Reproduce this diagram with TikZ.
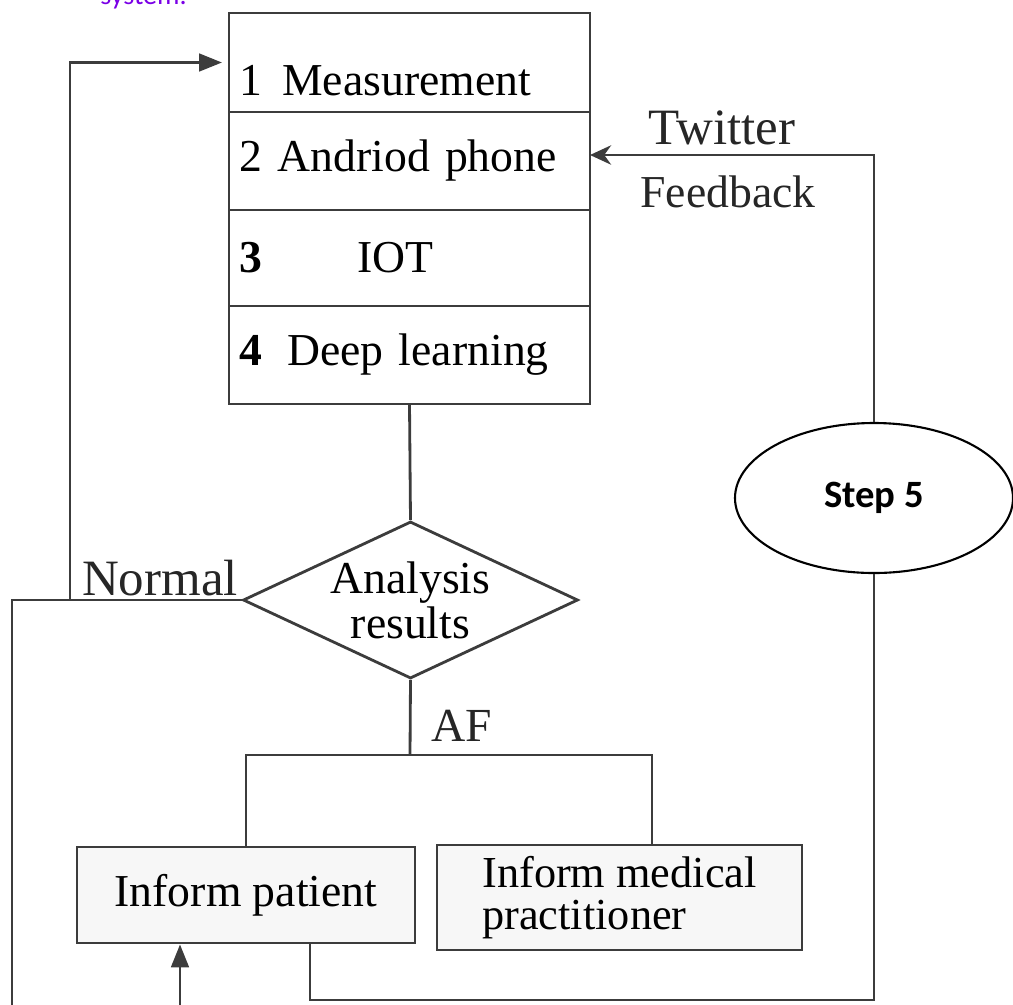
\documentclass[tikz,border=0pt]{standalone}
\usepackage{fontspec}
\setmainfont{Liberation Serif}
\newfontfamily\calibri{Carlito}
\usetikzlibrary{positioning,shapes.geometric,arrows.meta}
\definecolor{linegray}{HTML}{3C3C3C}
\definecolor{capviolet}{HTML}{7A00E6}

\begin{document}
\begin{tikzpicture}[
        line/.style={draw=linegray, line width=0.8pt},
        row/.style={line, rectangle, minimum width=3.61cm, text width=3.4cm, align=left,
            inner sep=0pt, outer sep=0pt, font=\fontsize{13}{15}\selectfont},
        infobox/.style={line, rectangle, fill=gray!6, inner sep=0pt, align=left,
            font=\fontsize{12.6}{11.8}\selectfont},
        tag/.style={inner sep=0pt, text=black!85}
    ]
    \useasboundingbox (0,0) rectangle (10.13,-10.04);
    \clip (0,0) rectangle (10.13,-10.04);

    % caption remnant
    \node[anchor=base west, text=capviolet, font=\calibri\fontsize{8}{9}\selectfont] (cap) at (0.88,-0.04) {system.};

    % stacked steps 1--4
    \node[row, minimum height=0.99cm, text height=0.65cm, text depth=0cm] (m1) at (4.095,-0.625) {1\hspace{0.2cm}Measurement};
    \node[row, minimum height=0.98cm] (m2) [below=0pt of m1] {2 Andriod phone};
    \node[row, minimum height=0.96cm] (m3) [below=0pt of m2] {\textbf{3}\hspace{0.95cm}IOT};
    \node[row, minimum height=0.98cm] (m4) [below=0pt of m3] {\textbf{4}\hspace{0.25cm}Deep learning};

    \node[line, diamond, aspect=2.13, inner sep=0pt, minimum width=3.35cm, minimum height=1.57cm,
        align=center, font=\fontsize{13}{11.5}\selectfont] (res) at (4.105,-6.00) {Analysis\\results};

    \node[infobox, minimum width=3.38cm, minimum height=0.96cm, font=\fontsize{13}{15}\selectfont] (pat) at (2.46,-8.95) {Inform patient};
    \node[infobox, minimum width=3.65cm, minimum height=1.05cm] (med) at (6.195,-8.975) {Inform medical\\practitioner};

    \node[draw=black, line width=0.6pt, ellipse, minimum width=2.78cm, minimum height=1.50cm,
        font=\calibri\bfseries\fontsize{11}{13}\selectfont] (step) at (8.74,-4.98) {Step 5};

    % labels
    \node[tag, font=\fontsize{14.5}{16}\selectfont] (tw) at (7.22,-1.28) {Twitter};
    \node[tag, font=\fontsize{13}{15}\selectfont] (fbk) at (7.28,-1.92) {Feedback};
    \node[tag, font=\fontsize{14.5}{16}\selectfont] (nrm) at (1.60,-5.78) {Normal};
    \node[tag, font=\fontsize{13.5}{15}\selectfont] (af) at (4.62,-7.26) {AF};

    \coordinate (split) at (4.10,-7.55);
    \coordinate (nl) at (0.12,-6.00);
    \coordinate (nu) at (0.70,-6.00);
    \coordinate (nlend) at (0.12,-10.30);
    \coordinate (pin) at (1.80,-10.30);
    \coordinate (fb) at (8.74,-10.00);

    % connectors
    \draw[line] (m4.south) -- (res.north);
    \draw[line] (res.south) -- (split);
    \draw[line] (pat.north) |- (split) -| ([xshift=3.25mm]med.north);
    \draw[line] (res.west) -- (nl) -- (nlend);
    \draw[line, -{Triangle[length=6.5pt,width=5pt]}] (nu) |- ([xshift=-2pt]m1.west);
    \draw[line, -{Triangle[length=6.5pt,width=5pt]}] (pin) -- (pin |- pat.south);
    \draw[line] ([xshift=6.4mm]pat.south) |- (fb) -- (step);
    \draw[line, -{Stealth[length=6pt,width=5.5pt]}] (step) |- ([yshift=0.6mm]m2.east);
\end{tikzpicture}
\end{document}
